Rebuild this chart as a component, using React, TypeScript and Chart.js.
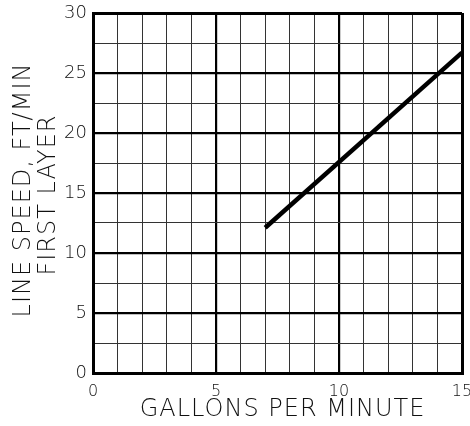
import React, { useEffect, useRef } from "react";
import { Chart, registerables } from "chart.js";

Chart.register(...registerables);

const gpm: number[] = [7, 15];
const lineSpeed: number[] = [12.1, 26.7];
const xTitle = "GALLONS PER MINUTE";
const yTitleLines: string[] = ["LINE SPEED, FT/MIN", "FIRST LAYER"];

const FONT = '"DejaVu Sans", sans-serif';

const titlesPlugin = {
  id: "titles",
  afterDraw(chart: any) {
    const { ctx, chartArea } = chart;
    ctx.save();
    ctx.fillStyle = "#111";
    ctx.font = `200 24px ${FONT}`;
    (ctx as any).letterSpacing = "1px";
    ctx.textAlign = "center";
    ctx.textBaseline = "middle";
    ctx.fillText(xTitle, (chartArea.left + chartArea.right) / 2 + 5, chartArea.bottom + 37);
    const cy = (chartArea.top + chartArea.bottom) / 2;
    const xs = [24, 49];
    const dy = [-3, 2];
    yTitleLines.forEach((t, i) => {
      ctx.save();
      ctx.translate(xs[i], cy + dy[i]);
      ctx.rotate(-Math.PI / 2);
      ctx.fillText(t, 0, 0);
      ctx.restore();
    });
    ctx.restore();
  },
};

export default function App() {
  const ref = useRef<HTMLCanvasElement | null>(null);
  useEffect(() => {
    if (!ref.current) return;
    const chart = new Chart(ref.current, {
      type: "line",
      data: {
        datasets: [
          {
            data: gpm.map((x, i) => ({ x, y: lineSpeed[i] })),
            borderColor: "#000",
            borderWidth: 4.5,
            pointRadius: 0,
            borderCapStyle: "butt",
            tension: 0,
          },
        ],
      },
      options: {
        animation: false,
        responsive: true,
        maintainAspectRatio: false,
        layout: { padding: { left: 0, right: 8, top: 13, bottom: 0 } },
        plugins: { legend: { display: false }, tooltip: { enabled: false } },
        scales: {
          x: {
            type: "linear",
            min: 0,
            max: 15,
            afterFit: (s: any) => {
              s.height = 53;
              s.paddingLeft = 0;
              s.paddingRight = 0;
            },
            ticks: {
              stepSize: 1,
              padding: 9,
              color: "#111",
              font: { family: FONT, size: 16, weight: "200" },
              maxRotation: 0,
              autoSkip: false,
              callback: (v: any) => (Number(v) % 5 === 0 ? String(v) : ""),
            },
            grid: {
              drawTicks: false,
              color: (c: any) => (c.tick && c.tick.value % 5 === 0 ? "#000" : "#333"),
              lineWidth: (c: any) => {
                const v = c.tick ? c.tick.value : 0;
                if (v === 0 || v === 15) return 3;
                return v % 5 === 0 ? 2.2 : 1;
              },
            },
            border: { display: true, color: "#000", width: 3 },
            title: { display: false },
          },
          y: {
            type: "linear",
            min: 0,
            max: 30,
            afterFit: (s: any) => {
              s.width = 93;
              s.paddingTop = 0;
              s.paddingBottom = 0;
            },
            ticks: {
              stepSize: 2.5,
              padding: 6,
              color: "#111",
              font: { family: FONT, size: 18, weight: "200" },
              autoSkip: false,
              callback: (v: any) => (Number(v) % 5 === 0 ? String(v) : ""),
            },
            grid: {
              drawTicks: false,
              color: (c: any) => (c.tick && c.tick.value % 5 === 0 ? "#000" : "#333"),
              lineWidth: (c: any) => {
                const v = c.tick ? c.tick.value : 0;
                if (v === 0 || v === 30) return 3;
                return v % 5 === 0 ? 2.2 : 1;
              },
            },
            border: { display: true, color: "#000", width: 3 },
            title: { display: false },
          },
        },
      },
      plugins: [titlesPlugin],
    } as any);
    return () => chart.destroy();
  }, []);
  return (
    <div style={{ position: "fixed", left: 0, top: 0, width: 470, height: 426, background: "#fff" }}>
      <canvas ref={ref} />
    </div>
  );
}
